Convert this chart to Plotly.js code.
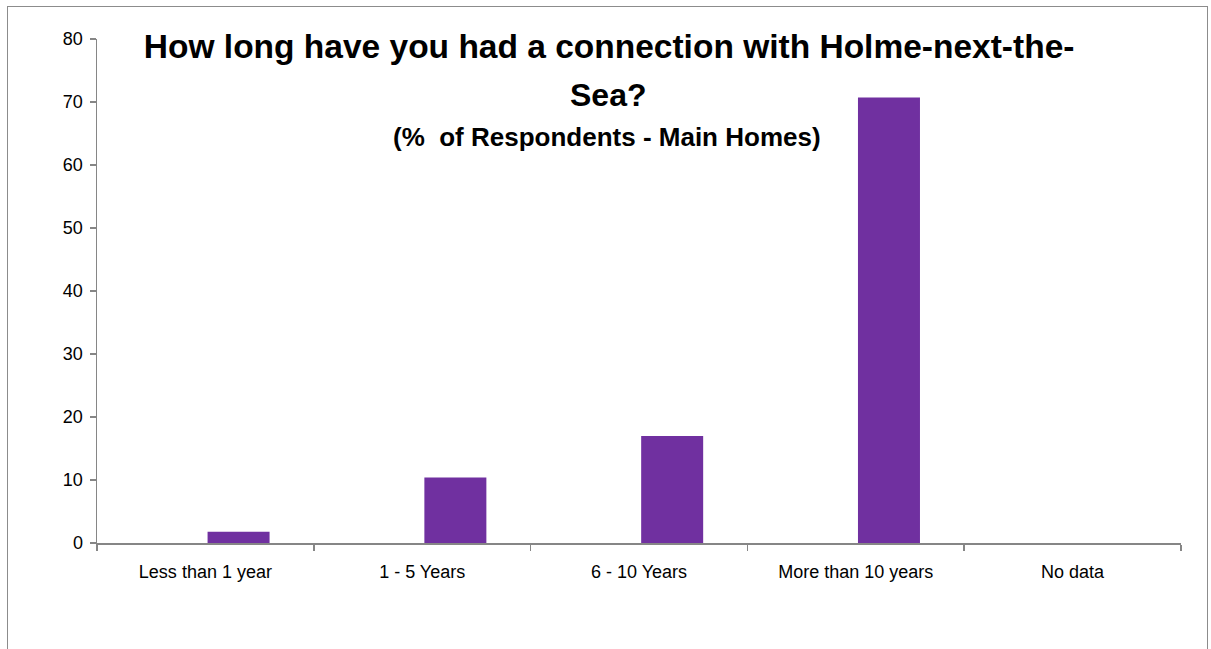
<!DOCTYPE html>
<html>
<head>
<meta charset="utf-8">
<script src="https://cdn.plot.ly/plotly-3.0.1.min.js"></script>
<style>
  html, body { margin: 0; padding: 0; background: #fff; }
  #frame { position: absolute; left: 7px; top: 6px; width: 1201px; height: 700px;
           border: 1px solid #8c8c8c; box-sizing: border-box; pointer-events: none; }
  #chart { position: absolute; left: 0; top: 0; width: 1211px; height: 649px; }
</style>
</head>
<body>
<div id="chart"></div>
<div id="frame"></div>
<script>
const categories = ["Less than 1 year", "1 - 5 Years", "6 - 10 Years", "More than 10 years", "No data"];
const percentMainHomes = [1.8, 10.4, 17.0, 70.7, 0];
const yTickValues = [0, 10, 20, 30, 40, 50, 60, 70, 80];

const titleLine1 = "How long have you had a connection with Holme-next-the-";
const titleLine2 = "Sea?";
const subtitleText = "(%  of Respondents - Main Homes)";

const fontFamily = "'Liberation Sans', Arial, sans-serif";

const trace = {
  type: "bar",
  x: categories,
  y: percentMainHomes,
  width: 0.286,
  offset: 0.01,
  marker: { color: "#7030A0", line: { width: 0 } },
  hoverinfo: "x+y"
};

const layout = {
  width: 1211,
  height: 649,
  margin: { l: 97, r: 30, t: 39, b: 106 },
  paper_bgcolor: "rgba(0,0,0,0)",
  plot_bgcolor: "rgba(0,0,0,0)",
  showlegend: false,
  font: { family: fontFamily, color: "#000" },
  title: {
    text: "<b>" + titleLine1 + "</b>",
    font: { family: fontFamily, size: 33.5, color: "#000" },
    xref: "container", x: 0.503, xanchor: "center",
    yref: "container", y: 1 - 46 / 649, yanchor: "middle"
  },
  annotations: [
    {
      text: "<b>" + titleLine2 + "</b>",
      xref: "paper", yref: "paper",
      x: (608 - 97) / 1084, y: (543 - 95) / 504,
      xanchor: "center", yanchor: "middle",
      showarrow: false,
      font: { family: fontFamily, size: 32, color: "#000" }
    },
    {
      text: "<b>" + subtitleText + "</b>",
      xref: "paper", yref: "paper",
      x: (607 - 97) / 1084, y: (543 - 137) / 504,
      xanchor: "center", yanchor: "middle",
      showarrow: false,
      font: { family: fontFamily, size: 26, color: "#000" }
    }
  ],
  xaxis: {
    type: "category",
    range: [-0.5, 4.5],
    showline: true, linecolor: "#868686", linewidth: 1.5,
    ticks: "outside", tickson: "boundaries", ticklen: 6, tickcolor: "#868686", tickwidth: 1.5,
    showgrid: false, zeroline: false,
    tickfont: { family: fontFamily, size: 18, color: "#000" },
    ticklabelstandoff: 12,
    fixedrange: true
  },
  yaxis: {
    range: [0, 80],
    tickvals: yTickValues,
    ticktext: yTickValues.map(String),
    showline: true, linecolor: "#868686", linewidth: 1.5,
    ticks: "outside", ticklen: 6, tickcolor: "#868686", tickwidth: 1.5,
    showgrid: false, zeroline: false,
    tickfont: { family: fontFamily, size: 18, color: "#000" },
    ticklabelstandoff: 3,
    fixedrange: true
  },
  bargap: 0.4
};

Plotly.newPlot("chart", [trace], layout, { displayModeBar: false, staticPlot: true });
</script>
</body>
</html>
